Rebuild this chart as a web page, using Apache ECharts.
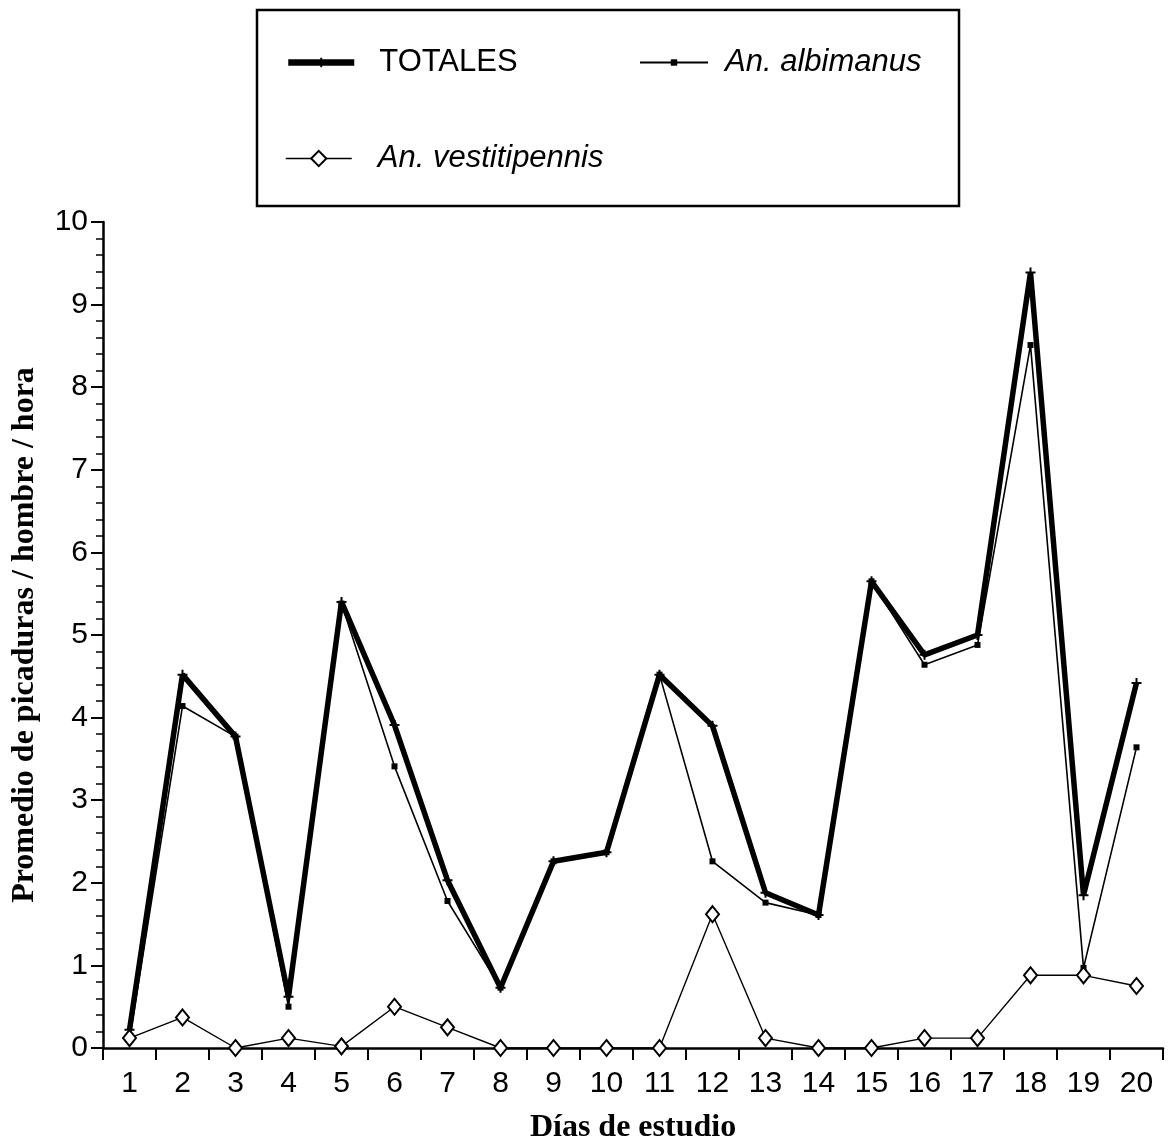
<!DOCTYPE html>
<html>
<head>
<meta charset="utf-8">
<script src="https://cdn.jsdelivr.net/npm/echarts@6/dist/echarts.min.js"></script>
<style>
  html, body { margin: 0; padding: 0; background: #fff; }
  #chart { width: 1170px; height: 1144px; }
</style>
</head>
<body>
<div id="chart"></div>
<script>
// Study days
const days = ['1','2','3','4','5','6','7','8','9','10','11','12','13','14','15','16','17','18','19','20'];

// Mean bites per man per hour
const totales = [0.22, 4.52, 3.77, 0.62, 5.40, 3.91, 2.03, 0.73, 2.26, 2.37, 4.52, 3.90, 1.88, 1.61, 5.65, 4.76, 5.00, 9.39, 1.85, 4.42];
const albimanus = [0.10, 4.14, 3.77, 0.50, 5.38, 3.41, 1.78, 0.73, 2.26, 2.37, 4.52, 2.26, 1.76, 1.61, 5.65, 4.64, 4.88, 8.51, 0.97, 3.64];
const vestitipennis = [0.12, 0.37, 0.00, 0.12, 0.02, 0.50, 0.25, 0.00, 0.00, 0.00, 0.00, 1.62, 0.12, 0.00, 0.00, 0.12, 0.12, 0.88, 0.88, 0.75];

const yTicks = [0, 10, 1];

const crossPath = 'path://M4,0H6V4H10V6H6V10H4V6H0V4H4Z';

const sansFont = 'Liberation Sans, Arial, sans-serif';
const serifFont = 'Liberation Serif, Times New Roman, serif';

const chart = echarts.init(document.getElementById('chart'));

function legendFor(name, left, top, textGap, opts) {
  return Object.assign({
    data: [name],
    left: left,
    top: top,
    orient: 'horizontal',
    itemWidth: 66,
    selectedMode: false,
    textStyle: { fontFamily: sansFont, fontSize: 31, color: '#000', padding: [0, 0, 0, textGap] }
  }, opts);
}

chart.setOption({
  animation: false,
  backgroundColor: '#fff',
  graphic: [{
    type: 'rect',
    shape: { x: 257, y: 10, width: 702, height: 196 },
    style: { fill: 'none', stroke: '#000', lineWidth: 2.5 },
    z: 10
  }],
  legend: [
    legendFor('TOTALES', 280, 42, 20, {
      itemHeight: 12,
      lineStyle: { width: 6.5, color: '#000' },
      itemStyle: { color: '#000' }
    }),
    legendFor('An. albimanus', 634, 42, 14, {
      itemWidth: 68,
      itemHeight: 8,
      lineStyle: { width: 2, color: '#000' },
      itemStyle: { color: '#000' },
      textStyle: { fontFamily: sansFont, fontSize: 31, fontStyle: 'italic', color: '#000', padding: [0, 0, 0, 12] }
    }),
    legendFor('An. vestitipennis', 280, 138, 21, {
      itemHeight: 19,
      lineStyle: { width: 1.5, color: '#000' },
      itemStyle: { color: '#fff', borderColor: '#000', borderWidth: 2 },
      textStyle: { fontFamily: sansFont, fontSize: 31, fontStyle: 'italic', color: '#000', padding: [0, 0, 0, 21] }
    })
  ],
  grid: { left: 103, right: 7, top: 222, bottom: 96, containLabel: false, outerBoundsMode: 'none' },
  xAxis: {
    type: 'category',
    data: days,
    boundaryGap: true,
    name: 'Días de estudio',
    nameLocation: 'middle',
    nameGap: 64,
    nameTextStyle: { fontFamily: serifFont, fontWeight: 'bold', fontSize: 32, color: '#000' },
    axisLine: { show: true, lineStyle: { color: '#000', width: 2.5 } },
    axisTick: { show: true, interval: 0, length: 12, inside: false, lineStyle: { color: '#000', width: 2 } },
    axisLabel: { interval: 0, margin: 21, fontFamily: sansFont, fontSize: 30, color: '#000' },
    splitLine: { show: false }
  },
  yAxis: {
    type: 'value',
    min: yTicks[0],
    max: yTicks[1],
    interval: yTicks[2],
    name: 'Promedio de picaduras / hombre / hora',
    nameLocation: 'middle',
    nameGap: 62,
    nameRotate: 90,
    nameTextStyle: { fontFamily: serifFont, fontWeight: 'bold', fontSize: 32, color: '#000' },
    axisLine: { show: true, lineStyle: { color: '#000', width: 2.5 } },
    axisTick: { show: true, length: 12, inside: false, lineStyle: { color: '#000', width: 2 } },
    minorTick: { show: true, splitNumber: 5, length: 7, lineStyle: { color: '#000', width: 1.5 } },
    axisLabel: { margin: 15, fontFamily: sansFont, fontSize: 30, color: '#000' },
    splitLine: { show: false },
    minorSplitLine: { show: false }
  },
  series: [
    {
      name: 'TOTALES',
      type: 'line',
      data: totales,
      symbol: crossPath,
      symbolSize: 10,
      showAllSymbol: true,
      lineStyle: { color: '#000', width: 5.5 },
      itemStyle: { color: '#000' },
      z: 3
    },
    {
      name: 'An. albimanus',
      type: 'line',
      data: albimanus,
      symbol: 'rect',
      symbolSize: 6,
      showAllSymbol: true,
      lineStyle: { color: '#000', width: 1.6 },
      itemStyle: { color: '#000' },
      z: 4
    },
    {
      name: 'An. vestitipennis',
      type: 'line',
      data: vestitipennis,
      symbol: 'diamond',
      symbolSize: [13, 16],
      showAllSymbol: true,
      lineStyle: { color: '#000', width: 1.4 },
      itemStyle: { color: '#fff', borderColor: '#000', borderWidth: 2 },
      z: 5
    }
  ]
});
</script>
</body>
</html>
